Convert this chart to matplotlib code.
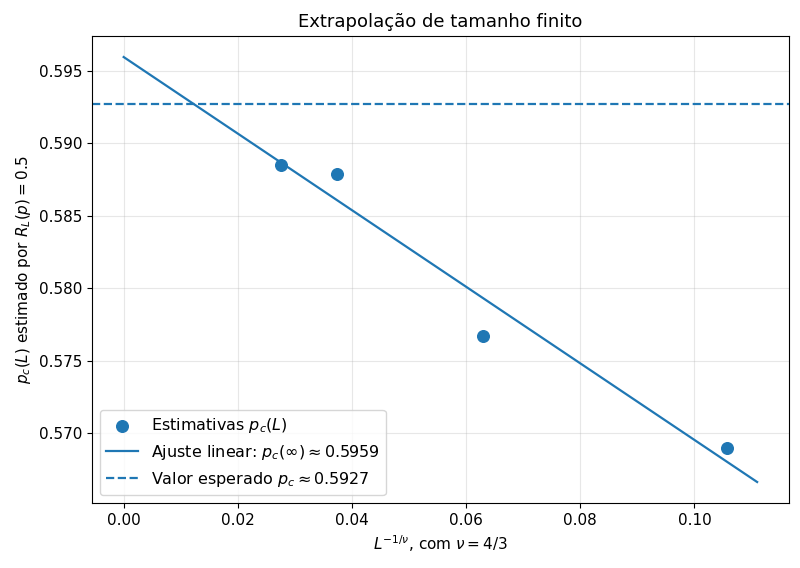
import numpy as np
import matplotlib
matplotlib.use("Agg")
import matplotlib.pyplot as plt

# L^{-1/nu} for L = 20, 40, 80, 120 (nu = 4/3)
x_vals = [0.0276, 0.0374, 0.0629, 0.1057]
pc_vals = [0.5885, 0.5879, 0.5767, 0.5690]
pc_expected = 0.5927

# linear fit, extrapolated to x = 0
slope, intercept = np.polyfit(x_vals, pc_vals, 1)
x_fit = np.linspace(0, max(x_vals) * 1.05, 100)
y_fit = slope * x_fit + intercept

plt.rcParams["font.size"] = 11

fig, ax = plt.subplots(figsize=(8, 5.68), dpi=100)
ax.scatter(x_vals, pc_vals, s=70, color="#1f77b4", zorder=3,
           label=r"Estimativas $p_c(L)$")
ax.plot(x_fit, y_fit, color="#1f77b4", lw=1.6,
        label=rf"Ajuste linear: $p_c(\infty) \approx {intercept:.4f}$")
ax.axhline(pc_expected, color="#1f77b4", ls="--", lw=1.6,
           label=rf"Valor esperado $p_c \approx {pc_expected:.4f}$")

ax.set_xlabel(r"$L^{-1/\nu}$, com $\nu = 4/3$")
ax.set_ylabel(r"$p_c(L)$ estimado por $R_L(p) = 0.5$")
ax.set_title("Extrapolação de tamanho finito", fontsize=13)
ax.grid(alpha=0.3)
ax.legend(loc="lower left", fontsize=11.5)

fig.subplots_adjust(left=0.115, right=0.986, top=0.937, bottom=0.114)
fig.savefig("out.png")
